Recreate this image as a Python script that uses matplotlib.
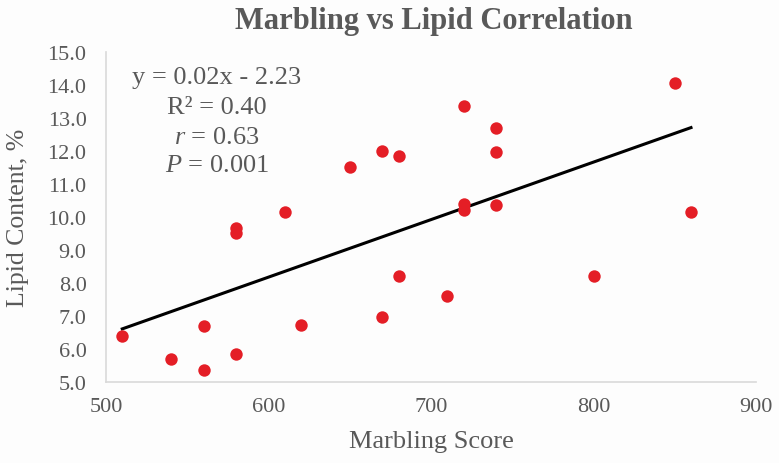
import matplotlib
matplotlib.use("Agg")
import matplotlib.pyplot as plt
import numpy as np

marbling = [510, 540, 560, 560, 580, 580, 580, 610, 620, 650, 670, 670, 680, 680,
            710, 720, 720, 720, 740, 740, 740, 800, 850, 860]
lipid = [6.4, 5.7, 6.7, 5.35, 9.65, 9.5, 5.85, 10.15, 6.72, 11.5, 12.0, 6.95, 11.85, 8.2,
         7.6, 13.35, 10.4, 10.2, 12.7, 11.95, 10.35, 8.2, 14.05, 10.15]
trend_x = [510, 860]
trend_y = [6.6, 12.7]
annot_lines = ["y = 0.02x - 2.23", "R² = 0.40", "$r$ = 0.63", "$P$ = 0.001"]
xticks = [500, 600, 700, 800, 900]
yticks = [5.0, 6.0, 7.0, 8.0, 9.0, 10.0, 11.0, 12.0, 13.0, 14.0, 15.0]

plt.rcParams['font.family'] = ['Liberation Serif', 'DejaVu Serif']
plt.rcParams['mathtext.fontset'] = 'custom'
plt.rcParams['mathtext.it'] = 'Liberation Serif:italic'
plt.rcParams['mathtext.rm'] = 'Liberation Serif'

gray = '#595959'
W, H = 779, 464
fig = plt.figure(figsize=(7.79, 4.64), dpi=100, facecolor='#FDFDFD')
ax = fig.add_axes([106/W, 1 - 382.7/H, 650/W, 330/H])
ax.set_facecolor('#FDFDFD')

ax.scatter(marbling, lipid, s=80, color='#E41E26', zorder=3, linewidths=0)
ax.plot(trend_x, trend_y, color='black', linewidth=2.2, zorder=2)

ax.set_xlim(500, 900)
ax.set_ylim(5, 15)
ax.set_xticks(xticks)
ax.set_yticks(yticks)
ax.set_yticklabels([f"{v:.1f}" for v in yticks])
ax.tick_params(length=0, labelsize=16, colors=gray)
ax.tick_params(axis='y', pad=14)
ax.tick_params(axis='x', pad=11)
for s in ['top', 'right']:
    ax.spines[s].set_visible(False)
for s in ['left', 'bottom']:
    ax.spines[s].set_color('#D9D9D9')
    ax.spines[s].set_linewidth(1.2)

ax.set_xlabel("Marbling Score", fontsize=19, color=gray)
ax.set_ylabel("Lipid Content, %", fontsize=18.5, color=gray)
ax.xaxis.set_label_coords(0.5, (382.7 - 442) / 330)
ax.xaxis.label.set_va('center')
ax.yaxis.set_label_coords((18 - 106) / 650, 0.5)
ax.yaxis.label.set_va('center')
ax.yaxis.label.set_ha('center')

fig.text(434/W, 1 - 22/H, "Marbling vs Lipid Correlation", ha='center', va='center',
         fontsize=22, fontweight='bold', color=gray)

ys = [78, 108, 137.5, 166.5]
for t, yp in zip(annot_lines, ys):
    fig.text(217/W, 1 - yp/H, t, ha='center', va='center', fontsize=19, color=gray)

fig.savefig("out.png", dpi=100, facecolor=fig.get_facecolor())
